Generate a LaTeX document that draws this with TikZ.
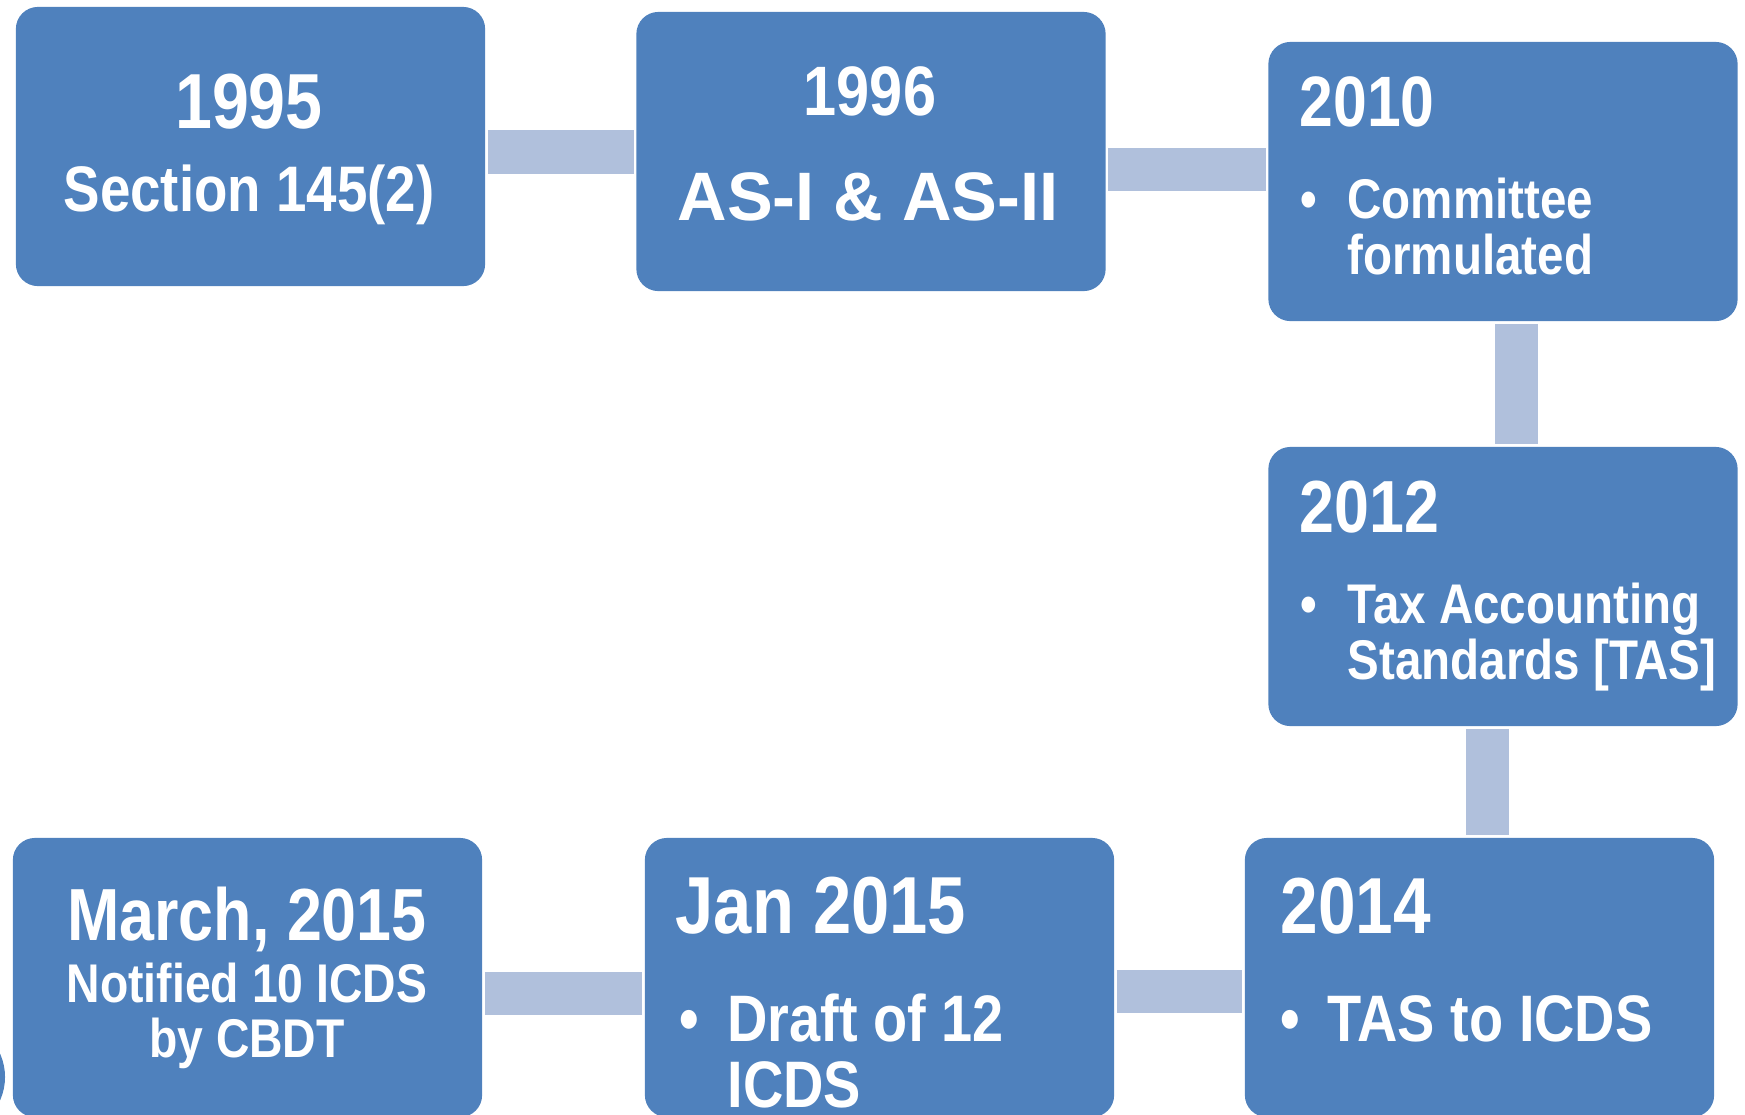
\documentclass[tikz,border=0pt]{standalone}
\usepackage{fontspec}
\setmainfont{Liberation Sans}[FakeStretch=0.85]
\newfontfamily\widefont{Liberation Sans}
\usepackage{xcolor}
\usepackage{tikz}
\usetikzlibrary{positioning,calc}
\definecolor{boxblue}{HTML}{4F81BD}
\definecolor{linkblue}{HTML}{B0C0DC}

\begin{document}
\begin{tikzpicture}[x=0.01cm, y=-0.01cm,
    box/.style={fill=boxblue, rounded corners=0.22cm, minimum width=4.69cm, minimum height=2.79cm, inner sep=0pt},
    link/.style={draw=linkblue, line width=0.43cm, shorten <=0.6pt, shorten >=0.6pt},
    txt/.style={text=white, inner sep=0pt, font=\bfseries}]
    \useasboundingbox (0,0) rectangle (1745,1114);
    \clip (0,0) rectangle (1745,1114);

    % Boxes
    \node[box] (b1995) at (250.5,146.5) {};
    \node[box] (b1996) at (871,151.5) {};
    \node[box] (b2010) at (1503,181.5) {};
    \node[box] (b2012) at (1503,586.5) {};
    \node[box] (b2014) at (1479.5,977.5) {};
    \node[box] (bjan) at (879.5,977.5) {};
    \node[box] (bmar) at (247.5,977.5) {};

    % Edge of a shape cut off on the left
    \fill[boxblue] (-52,1077) circle (0.57cm);

    % Links
    \draw[link] (b1995.east |- 0,152) -- (b1996.west |- 0,152);
    \draw[link] (b1996.east |- 0,169) -- (b2010.west |- 0,169);
    \draw[link] (b2010.south -| 1516,0) -- (b2012.north -| 1516,0);
    \draw[link] (b2012.south -| 1487,0) -- (b2014.north -| 1487,0);
    \draw[link] (bjan.east |- 0,991) -- (b2014.west |- 0,991);
    \draw[link] (bmar.east |- 0,993) -- (bjan.west |- 0,993);

    % 1995
    \node[txt, anchor=base, font=\bfseries\fontsize{22.2}{24}\selectfont] (y1995) at (249,128) {1995};
    \node[txt, anchor=base, font=\bfseries\fontsize{18.3}{20}\selectfont] (t1995) at (249,211) {Section 145(2)};

    % 1996
    \node[txt, anchor=base, font=\bfseries\fontsize{19.9}{22}\selectfont] (y1996) at (870,115) {1996};
    \node[txt, anchor=base, font=\widefont\bfseries\fontsize{19.5}{22}\selectfont] (t1996) at (868,220) {AS-I \& AS-II};

    % 2010
    \node[txt, anchor=base west, font=\bfseries\fontsize{20.3}{22}\selectfont] (y2010) at (1299,126) {2010};
    \node[txt, anchor=base west, font=\bfseries\fontsize{15.9}{15.6}\selectfont] (t2010) at (1300,218)
        {\begin{tabular}[t]{@{}l@{\hspace{8.6pt}}l@{}}• & Committee\\ & formulated\end{tabular}};

    % 2012
    \node[txt, anchor=base west, font=\bfseries\fontsize{21}{23}\selectfont] (y2012) at (1299,532) {2012};
    \node[txt, anchor=base west, font=\bfseries\fontsize{15.9}{15.4}\selectfont] (t2012) at (1300,623)
        {\begin{tabular}[t]{@{}l@{\hspace{8.6pt}}l@{}}• & Tax Accounting\\ & Standards [TAS]\end{tabular}};

    % 2014
    \node[txt, anchor=base west, font=\bfseries\fontsize{22.6}{24}\selectfont] (y2014) at (1280,933) {2014};
    \node[txt, anchor=base west, font=\bfseries\fontsize{18.7}{18.8}\selectfont] (t2014) at (1279.5,1041)
        {\begin{tabular}[t]{@{}l@{\hspace{7.9pt}}l@{}}• & TAS to ICDS\end{tabular}};

    % Jan 2015
    \node[txt, anchor=base west, font=\bfseries\fontsize{23}{25}\selectfont] (yjan) at (675,933) {Jan 2015};
    \node[txt, anchor=base west, font=\bfseries\fontsize{18.7}{18.8}\selectfont] (tjan) at (678.5,1041)
        {\begin{tabular}[t]{@{}l@{\hspace{8.2pt}}l@{}}• & Draft of 12\\ & ICDS\end{tabular}};

    % March, 2015
    \node[txt, anchor=base, font=\bfseries\fontsize{21}{23}\selectfont] (ymar) at (247,940) {March, 2015};
    \node[txt, anchor=base, font=\bfseries\fontsize{15.5}{15}\selectfont] (tmar) at (247,1002)
        {\begin{tabular}[t]{@{}c@{}}Notified 10 ICDS\\by CBDT\end{tabular}};
\end{tikzpicture}
\end{document}
